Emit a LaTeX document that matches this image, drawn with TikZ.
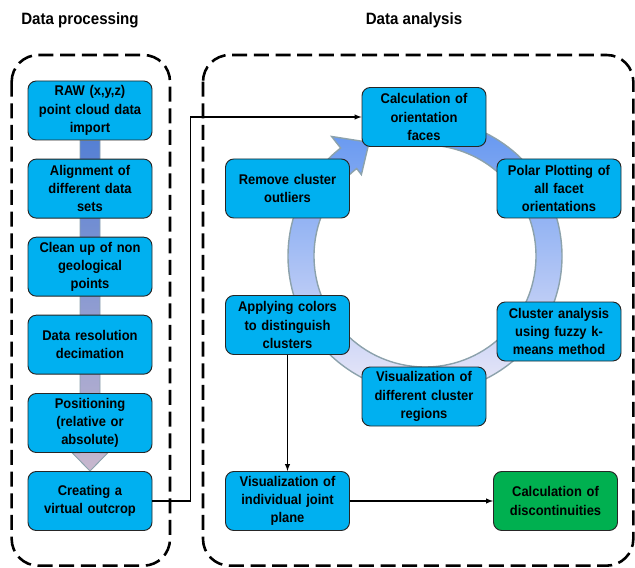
\documentclass[tikz,border=0pt]{standalone}
\usepackage{fontspec}
\newfontfamily\boxfont[FakeStretch=0.92]{Liberation Sans Bold}
\usetikzlibrary{calc}
\usetikzlibrary{backgrounds}
\definecolor{procblue}{HTML}{00B0F0}
\definecolor{resultgreen}{HTML}{00B050}
\definecolor{ringtop}{HTML}{5E93F0}
\definecolor{ringmid}{HTML}{A8C8F2}
\definecolor{ringlow}{HTML}{EEEAF8}
\definecolor{bartop}{HTML}{5580D4}
\definecolor{barlow}{HTML}{C8B8CE}
\definecolor{ringedge}{HTML}{8CA2AC}
\tikzset{
    stage/.style={
        rectangle,
        rounded corners=0.25cm,
        draw=black!85,
        line width=0.8pt,
        fill=procblue,
        minimum width=3.72cm,
        minimum height=1.77cm,
        text width=3.5cm,
        inner sep=1pt,
        align=center,
        font=\boxfont\fontsize{12}{15.5}\selectfont
    },
    heading/.style={
        font=\boxfont\fontsize{14}{16}\selectfont
    },
    groupframe/.style={
        draw=black,
        line width=2.2pt,
        dash pattern=on 0.45cm off 0.2cm,
        rounded corners=0.8cm
    },
    link/.style={
        draw,
        line width=1pt,
        ->
    },
    flowbar/.style={
        top color=bartop,
        bottom color=barlow,
        draw=ringedge,
        line width=0.8pt
    },
    ringarrow/.style={
        top color=ringtop,
        middle color=ringmid,
        bottom color=ringlow,
        draw=ringedge,
        line width=1.2pt
    },
    >=latex
}

\begin{document}
\begin{tikzpicture}
        \useasboundingbox (0,0) rectangle (19.05,-17.04);
        \node[heading] (proctitle) at (2.4,-0.6) {Data processing};
        \node[heading] (anatitle) at (12.42,-0.6) {Data analysis};
        \draw[groupframe] (0.35,-1.65) rectangle (5.1,-16.97);
        \draw[groupframe] (6.09,-1.65) rectangle (19.0,-16.97);

        \node[stage] (raw) at (2.7,-3.315) {RAW (x,y,z)\\point cloud data\\import};
        \node[stage] (align) at (2.7,-5.658) {Alignment of\\different data\\sets};
        \node[stage] (clean) at (2.7,-8.0) {Clean up of non\\geological\\points};
        \node[stage] (decim) at (2.7,-10.34) {Data resolution\\decimation};
        \node[stage] (posit) at (2.7,-12.69) {Positioning\\(relative or\\absolute)};
        \node[stage] (virtual) at (2.7,-15.03) {Creating a\\virtual outcrop};

        \node[stage] (orient) at (12.72,-3.51) {Calculation of\\orientation\\faces};
        \node[stage] (polar) at (16.77,-5.655) {Polar Plotting of\\all facet\\orientations};
        \node[stage] (fuzzy) at (16.77,-9.945) {Cluster analysis\\using fuzzy k-\\means method};
        \node[stage] (regions) at (12.72,-11.895) {Visualization of\\different cluster\\regions};
        \node[stage] (colors) at (8.625,-9.75) {Applying colors\\to distinguish\\clusters};
        \node[stage] (outliers) at (8.625,-5.655) {Remove cluster\\outliers};
        \node[stage] (joint) at (8.625,-15.03) {Visualization of\\individual joint\\plane};
        \node[stage,fill=resultgreen] (discont) at (16.665,-15.03) {Calculation of\\discontinuities};

        \path[link] (virtual.east) -- ++(1.14,0) |- (orient.west);
        \path[link] (colors) edge (joint);
        \path[link] (joint) edge (discont);

        \begin{scope}[on background layer]
            % wide arrow behind the processing steps
            \path[flowbar] ($(raw.south)+(-0.3,0)$) -- ($(posit.south)+(-0.3,0)$)
                -- ($(posit.south)+(-0.53,0)$) -- (virtual.north)
                -- ($(posit.south)+(0.53,0)$) -- ($(posit.south)+(0.3,0)$)
                -- ($(raw.south)+(0.3,0)$) -- cycle;
            % circular arrow of the analysis loop
            \begin{scope}[shift={(12.75,-7.68)}]
                \path[ringarrow] (95:4.11) arc[start angle=95,end angle=-232,radius=4.11]
                    -- (-232:4.55) -- (-243.8:3.8) -- (-232:3.1) -- (-232:3.33)
                    arc[start angle=-232,end angle=95,radius=3.33] -- cycle;
            \end{scope}
        \end{scope}
    \end{tikzpicture}
\end{document}
